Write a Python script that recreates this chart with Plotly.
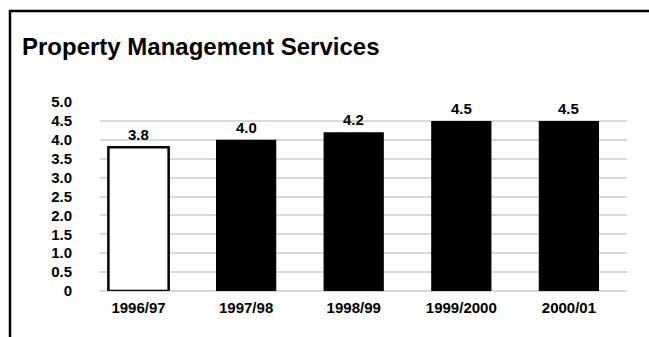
import plotly.graph_objects as go

# Chart data
seasons = ["1996/97", "1997/98", "1998/99", "1999/2000", "2000/01"]
values = [3.8, 4.0, 4.2, 4.5, 4.5]
fill_colors = ["#ffffff", "#000000", "#000000", "#000000", "#000000"]
outline_widths = [2.5, 0, 0, 0, 0]
y_tick_values = [0, 0.5, 1.0, 1.5, 2.0, 2.5, 3.0, 3.5, 4.0, 4.5, 5.0]
y_tick_labels = ["0", "0.5", "1.0", "1.5", "2.0", "2.5", "3.0", "3.5", "4.0", "4.5", "5.0"]

FONT = "Liberation Sans, Arial, sans-serif"
W, H = 649, 337
ML, MR, MT, MB = 100, 22, 102, 46
PW, PH = W - ML - MR, H - MT - MB

fig = go.Figure()
fig.add_trace(go.Bar(
    x=seasons,
    y=values,
    width=0.56,
    marker=dict(color=fill_colors, line=dict(color="#000000", width=outline_widths)),
    showlegend=False,
    hoverinfo="skip",
))

# value labels above each bar
for s, v in zip(seasons, values):
    fig.add_annotation(
        x=s, y=v, text=f"<b>{v:.1f}</b>", showarrow=False,
        yanchor="bottom", yshift=2,
        font=dict(family=FONT, size=15, color="#000000"),
    )

# outer frame (left and top edges visible, rest runs off the canvas)
def px_to_paper_x(px):
    return (px - ML) / PW

def py_to_paper_y(py):
    return (H - MB - py) / PH

fig.add_shape(
    type="rect", xref="paper", yref="paper",
    x0=px_to_paper_x(10), x1=px_to_paper_x(W + 20),
    y0=py_to_paper_y(H + 20), y1=py_to_paper_y(11),
    line=dict(color="#000000", width=2.5), fillcolor="rgba(0,0,0,0)",
    layer="above",
)

fig.update_layout(
    width=W, height=H,
    margin=dict(l=ML, r=MR, t=MT, b=MB, pad=0),
    paper_bgcolor="#ffffff", plot_bgcolor="#ffffff",
    bargap=0.44,
    title=dict(
        text="<b>Property Management Services</b>",
        font=dict(family=FONT, size=24, color="#000000"),
        xref="container", yref="container",
        x=22 / W, xanchor="left",
        y=1 - 47 / H, yanchor="middle",
    ),
    xaxis=dict(
        type="category",
        range=[-0.358, 4.54],
        showgrid=False, showline=False, zeroline=False,
        ticks="", ticklabelstandoff=6,
        tickfont=dict(family=FONT, size=15, color="#000000", weight="bold"),
    ),
    yaxis=dict(
        range=[0, 5],
        tickvals=y_tick_values, ticktext=y_tick_labels,
        showgrid=True, gridcolor="#d9d9d9", gridwidth=1.5,
        zeroline=True, zerolinecolor="#d9d9d9", zerolinewidth=1.5,
        showline=False, ticks="", ticklabelstandoff=27,
        tickfont=dict(family=FONT, size=15, color="#000000", weight="bold"),
    ),
)

fig.write_html("out.html")
